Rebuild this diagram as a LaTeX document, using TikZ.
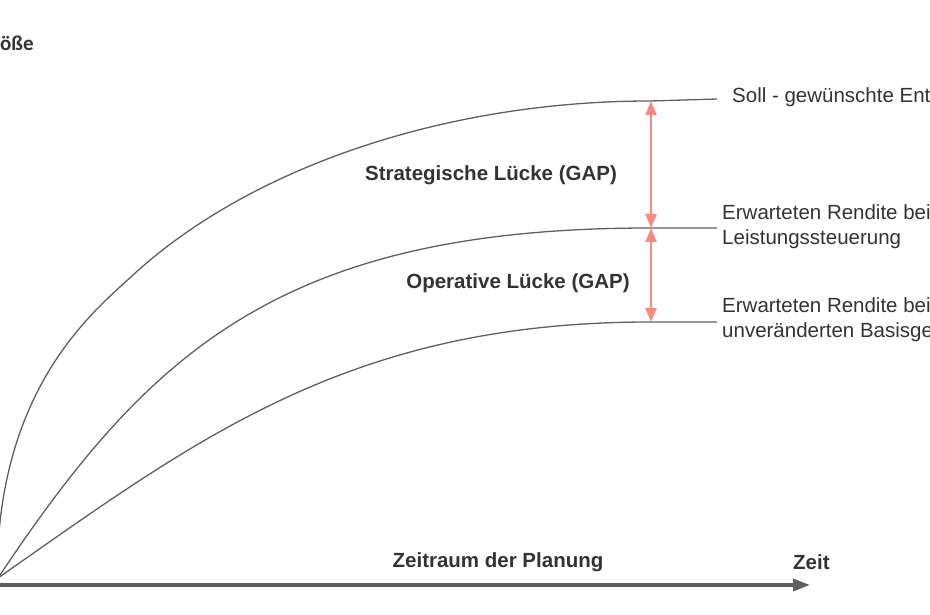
\documentclass[tikz,border=0pt]{standalone}
\usepackage{fontspec}
\setmainfont{Liberation Sans}
\newfontfamily\carlito{Carlito}
\usetikzlibrary{arrows.meta}

\definecolor{linegray}{HTML}{5F5F5F}
\definecolor{textgray}{HTML}{333333}
\definecolor{gapred}{RGB}{248,140,128}

\begin{document}
\begin{tikzpicture}[x=1pt,y=-1pt,
  curve/.style={linegray,line width=1.3pt},
  axis/.style={linegray,line width=3.5pt,-{Triangle[length=17pt,width=12pt]}},
  gap/.style={gapred,line width=2.5pt,{Triangle[length=14pt,width=11pt]}-{Triangle[length=14pt,width=11pt]}},
  lbl/.style={anchor=base west,text=textgray,inner sep=0pt,font=\fontsize{20.5}{25}\selectfont},
  bold/.style={anchor=base,text=textgray,inner sep=0pt,font=\fontsize{20.5}{25}\selectfont\bfseries}]
  \useasboundingbox (0,0) rectangle (930,615);
  \clip (0,0) rectangle (930,615);

  % axis
  \coordinate (o) at (-2,585);
  \coordinate (t) at (810,585);
  \draw[axis] (o) -- (t);

  % curves
  \coordinate (start) at (-2,578);
  \draw[curve] (-3,578) .. controls (-3,388) and (93,312) .. (133,275)
    .. controls (253,165) and (450,101) .. (650,101) -- (717,99);
  \draw[curve] (start) .. controls (148,353) and (280,228) .. (650,228) -- (717,228);
  \draw[curve] (start) .. controls (198,438) and (350,322) .. (650,322) -- (717,322);

  % gaps
  \coordinate (s) at (651,101);
  \coordinate (l) at (651,228);
  \coordinate (b) at (651,322);
  \draw[gap] (s) -- (l);
  \draw[gap] (l) -- (b);

  \node[lbl] (soll) at (732,103) {Soll - gewünschte Ent};
  \node[lbl,align=left] (leist) at (722,244) {Erwarteten Rendite bei\\Leistungssteuerung};
  \node[lbl,align=left] (basis) at (722,337) {Erwarteten Rendite bei\\unveränderten Basisge};

  \node[bold] (strat) at (491,181) {Strategische Lücke (GAP)};
  \node[bold] (oper) at (518,288) {Operative Lücke (GAP)};
  \node[bold] (planung) at (498,567) {Zeitraum der Planung};
  \node[bold,anchor=base west] (zeit) at (793,569) {Zeit};
  \node[anchor=base west,text=textgray,inner sep=0pt,font=\carlito\bfseries\fontsize{21}{25}\selectfont] (groesse) at (0,51) {öße};
\end{tikzpicture}
\end{document}
